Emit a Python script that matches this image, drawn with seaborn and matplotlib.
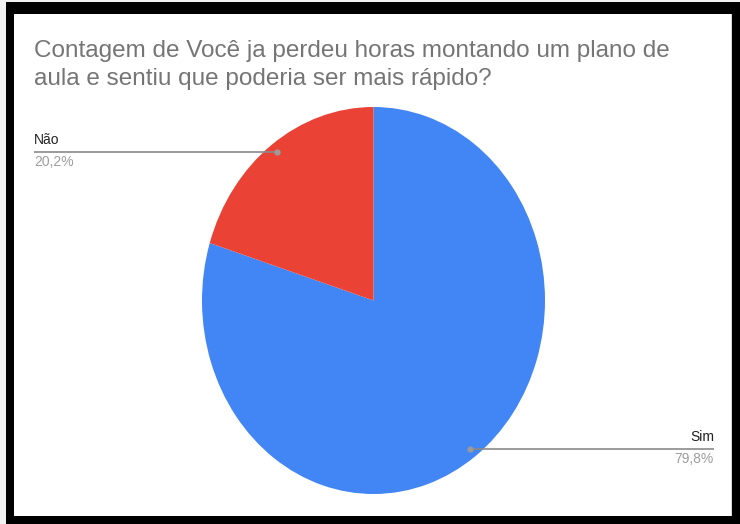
import matplotlib
matplotlib.use("Agg")
import matplotlib.pyplot as plt
from matplotlib.patches import Rectangle
import numpy as np
import seaborn as sns

# Survey answers and their counts (share of responses)
categories = ["Sim", "Não"]
shares = [79.8, 20.2]
pct_labels = ["79,8%", "20,2%"]
colors = ["#4285F4", "#EA4335"]
title_lines = [
    "Contagem de Você ja perdeu horas montando um plano de",
    "aula e sentiu que poderia ser mais rápido?",
]

sns.set_theme(style="white")
plt.rcParams["font.family"] = ["Liberation Sans", "DejaVu Sans"]

W, H = 740, 524
fig = plt.figure(figsize=(W / 100, H / 100), dpi=100)
fig.patch.set_facecolor("black")


def px_rect(x0, y0, x1, y1, color, z=0):
    """Rectangle given in pixel coordinates measured from the top-left corner."""
    fig.add_artist(Rectangle((x0 / W, 1 - y1 / H), (x1 - x0) / W, (y1 - y0) / H,
                             transform=fig.transFigure, color=color, lw=0, zorder=z))


# Frame: thin light strips outside the black border, white card inside it
px_rect(0, 0, 6, H, "#f2f2f2")
px_rect(0, 0, W, 2, "#f2f2f2")
px_rect(14, 14, 732, 516, "white")
px_rect(731, 14, 732, 516, "#d8d8d8", z=1)

# Pie axes (slightly taller than wide)
cx, cy, rx, ry = 373.5, 300.5, 171.5, 193.5
ax = fig.add_axes([(cx - rx) / W, 1 - (cy + ry) / H, 2 * rx / W, 2 * ry / H])
wedges, _ = ax.pie(shares, colors=colors, startangle=90, counterclock=False,
                   radius=1.0, wedgeprops=dict(linewidth=0))
ax.set_aspect("auto")
ax.set_xlim(-1, 1)
ax.set_ylim(-1, 1)
ax.set_axis_off()


def to_data(px, py):
    return (px - cx) / rx, (cy - py) / ry


# Leader lines and labels
line_color = "#8a8a8a"
cum = 0.0
for name, share, pct, w in zip(categories, shares, pct_labels, wedges):
    mid = np.deg2rad((w.theta1 + w.theta2) / 2)
    dx, dy = 0.95 * np.cos(mid), 0.95 * np.sin(mid)
    if dx < 0:
        end_x, _ = to_data(34, 0)
        ha, tx = "left", end_x
    else:
        end_x, _ = to_data(714, 0)
        ha, tx = "right", end_x
    ax.plot([dx, end_x], [dy, dy], color=line_color, lw=1.2, clip_on=False,
            solid_capstyle="butt", zorder=3)
    ax.plot([dx], [dy], "o", ms=4.5, color="#9a9a9a", mec="none",
            clip_on=False, zorder=4)
    ax.text(tx, dy + 5 / ry, name, ha=ha, va="bottom", fontsize=10,
            color="#222222", clip_on=False)
    ax.text(tx, dy - 3 / ry, pct, ha=ha, va="top", fontsize=10,
            color="#9e9e9e", clip_on=False)

# Title
for i, line in enumerate(title_lines):
    fig.text(34 / W, 1 - (57 + 28 * i) / H, line, ha="left", va="baseline",
             fontsize=17.5, color="#757575")

fig.savefig("out.png", dpi=100, facecolor=fig.get_facecolor())
